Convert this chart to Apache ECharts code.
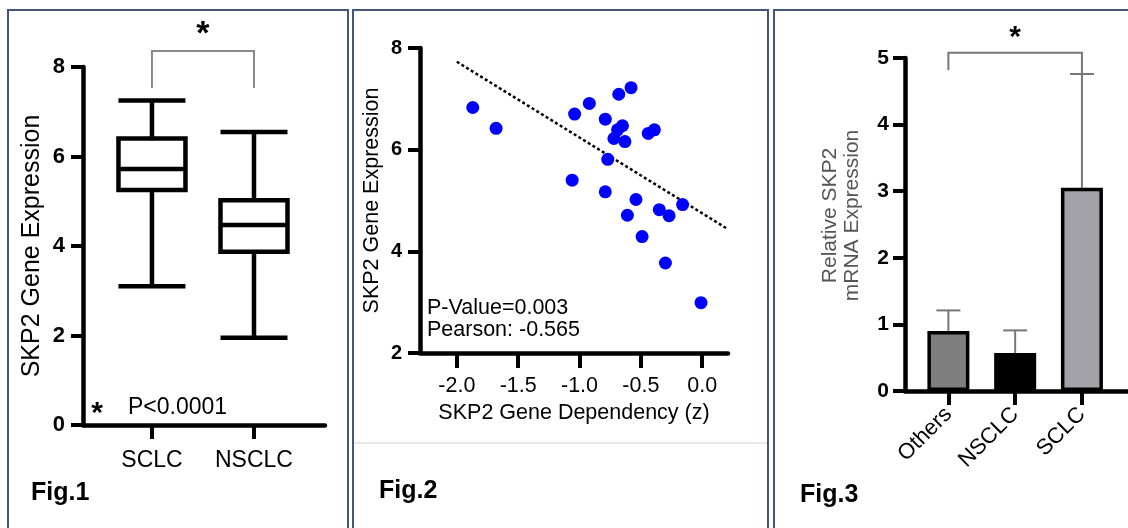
<!DOCTYPE html>
<html><head><meta charset="utf-8">
<script src="https://cdn.jsdelivr.net/npm/echarts@6/dist/echarts.min.js"></script>
<style>html,body{margin:0;padding:0;background:#fff}#c{width:1128px;height:528px}</style>
</head><body><div id="c"></div>
<script>
// ---------- Fig.1 : box plot ----------
const boxCategories = ['SCLC', 'NSCLC'];
// [min, Q1, median, Q3, max]
const boxStats = [
  [3.1, 5.25, 5.72, 6.4, 7.25],
  [1.95, 3.87, 4.47, 5.02, 6.55]
];
const box1YTicks = [0, 2, 4, 6, 8];
const fig1Bracket = [[1, 2, 8.36, 7.53, 7.53, 8.72]]; // x1, x2, top, end1, end2, star
// ---------- Fig.2 : scatter ----------
const depX = [-1.87, -1.68, -1.04, -0.92, -0.68, -0.58, -0.79, -0.65, -0.72, -0.63, -0.69, -0.44, -0.39,
              -0.77, -1.06, -0.79, -0.54, -0.61, -0.35, -0.27, -0.16, -0.49, -0.30, -0.01];
const exprY = [6.83, 6.42, 6.70, 6.91, 7.09, 7.22, 6.60, 6.47, 6.22, 6.16, 6.39, 6.32, 6.39,
               5.81, 5.40, 5.17, 5.02, 4.71, 4.82, 4.70, 4.92, 4.29, 3.77, 2.99];
const trendLine = [[-2.0, 7.73], [0.2, 4.45]];
const scatterXTicks = [-2.0, -1.5, -1.0, -0.5, 0.0];
// ---------- Fig.3 : bar chart ----------
const barCategories = ['Others', 'NSCLC', 'SCLC'];
const barMeans = [0.9, 0.57, 3.05];
const barErrUpper = [1.21, 0.91, 4.76];
const barColors = ['#7f7f7f', '#000000', '#a2a2a8'];
const fig3Bracket = [[1, 3, 5.08, 4.82, 4.76, 5.3]];

const FONT = '"Liberation Sans", Arial, sans-serif';
const chart = echarts.init(document.getElementById('c'), null, {renderer: 'canvas'});

function bracketRender(color, starSize) {
  return function (params, api) {
    const x1 = api.value(0), x2 = api.value(1);
    const a = api.coord([x1, api.value(3)]);
    const b = api.coord([x1, api.value(2)]);
    const c = api.coord([x2, api.value(2)]);
    const d = api.coord([x2, api.value(4)]);
    const s = api.coord([(x1 + x2) / 2, api.value(5)]);
    return {type: 'group', children: [
      {type: 'polyline', shape: {points: [a, b, c, d]}, style: {stroke: color, lineWidth: 2, fill: null}},
      {type: 'text', x: s[0], y: s[1], style: {text: '*', font: 'bold ' + starSize + 'px ' + FONT,
        align: 'center', verticalAlign: 'middle', fill: '#000'}}
    ]};
  };
}

const axisLineStyle = {onZero: false, lineStyle: {color: '#000', width: 4.5}};
const yAxisLineStyle = {show: true, onZero: false, lineStyle: {color: '#000', width: 4.5}};

chart.setOption({
  animation: false,
  backgroundColor: '#fff',
  textStyle: {fontFamily: FONT},
  grid: [
    {left: 83, top: 67, width: 242, height: 358},
    {left: 420, top: 48, width: 308, height: 305},
    {left: 905, top: 58, width: 223, height: 333}
  ],
  xAxis: [
    {gridIndex: 0, type: 'value', min: 0.324, max: 2.696, splitLine: {show: false},
     axisLine: axisLineStyle,
     axisTick: {customValues: [1, 2], length: 14, lineStyle: {width: 4, color: '#000'}},
     axisLabel: {customValues: [1, 2], formatter: v => boxCategories[Math.round(v) - 1], fontSize: 23, color: '#000', margin: 24}},
    {gridIndex: 1, type: 'value', min: -2.3, max: 0.21, splitLine: {show: false},
     axisLine: axisLineStyle,
     axisTick: {customValues: scatterXTicks, length: 15, lineStyle: {width: 4, color: '#000'}},
     axisLabel: {customValues: scatterXTicks, formatter: v => v.toFixed(1), fontSize: 21.5, color: '#000', margin: 22},
     name: 'SKP2 Gene Dependency (z)', nameLocation: 'middle', nameGap: 49,
     nameTextStyle: {fontSize: 21.5, color: '#000'}},
    {gridIndex: 2, type: 'value', min: 0.35, max: 3.69, splitLine: {show: false},
     axisLine: axisLineStyle,
     axisTick: {customValues: [1, 2, 3], length: 14, lineStyle: {width: 4, color: '#000'}},
     axisLabel: {customValues: [1, 2, 3], formatter: v => barCategories[Math.round(v) - 1], rotate: 45, fontSize: 22, color: '#000', margin: 20}}
  ],
  yAxis: [
    {gridIndex: 0, type: 'value', min: 0, max: 8, interval: 2, splitLine: {show: false},
     axisLine: yAxisLineStyle,
     axisTick: {show: true, length: 12, lineStyle: {width: 4, color: '#000'}},
     axisLabel: {fontSize: 22, fontWeight: 'bold', color: '#000', margin: 18},
     name: 'SKP2 Gene Expression', nameLocation: 'middle', nameGap: 38,
     nameTextStyle: {fontSize: 25, color: '#000'}},
    {gridIndex: 1, type: 'value', min: 2, max: 8, interval: 2, splitLine: {show: false},
     axisLine: yAxisLineStyle,
     axisTick: {show: true, length: 12, lineStyle: {width: 4, color: '#000'}},
     axisLabel: {fontSize: 20, fontWeight: 'bold', color: '#000', margin: 18},
     name: 'SKP2 Gene Expression', nameLocation: 'middle', nameGap: 37,
     nameTextStyle: {fontSize: 21.5, color: '#000'}},
    {gridIndex: 2, type: 'value', min: 0, max: 5, interval: 1, splitLine: {show: false},
     axisLine: yAxisLineStyle,
     axisTick: {show: true, length: 12, lineStyle: {width: 4, color: '#000'}},
     axisLabel: {fontSize: 21, fontWeight: 'bold', color: '#000', margin: 16},
     name: 'Relative SKP2\nmRNA Expression', nameLocation: 'middle', nameGap: 42,
     nameTextStyle: {fontSize: 21, color: '#555', lineHeight: 22, padding: [0, 0, 0, 18]}}
  ],
  series: [
    {type: 'boxplot', xAxisIndex: 0, yAxisIndex: 0, boxWidth: [67, 67],
     itemStyle: {color: '#fff', borderColor: '#000', borderWidth: 4.5},
     data: boxStats.map((s, i) => [i + 1].concat(s))},
    {type: 'custom', xAxisIndex: 0, yAxisIndex: 0, clip: false,
     renderItem: bracketRender('#8a8a8a', 34), data: fig1Bracket},
    {type: 'line', xAxisIndex: 1, yAxisIndex: 1, data: trendLine, symbol: 'none',
     lineStyle: {color: '#000', width: 2.5, type: [3, 2.5]}, z: 1},
    {type: 'scatter', xAxisIndex: 1, yAxisIndex: 1, symbolSize: 13,
     itemStyle: {color: '#0000ff', opacity: 1}, data: depX.map((x, i) => [x, exprY[i]]), z: 3},
    {type: 'bar', xAxisIndex: 2, yAxisIndex: 2, barWidth: 42,
     data: barMeans.map((m, i) => ({value: [i + 1, m], itemStyle: {color: barColors[i]}})),
     itemStyle: {borderColor: '#000', borderWidth: 3.5}},
    {type: 'custom', xAxisIndex: 2, yAxisIndex: 2, clip: false, z: 1,
     data: barMeans.map((m, i) => [i + 1, m, barErrUpper[i]]),
     renderItem: function (params, api) {
       const b = api.coord([api.value(0), api.value(1)]);
       const t = api.coord([api.value(0), api.value(2)]);
       return {type: 'group', children: [
         {type: 'line', shape: {x1: b[0], y1: b[1], x2: t[0], y2: t[1]}, style: {stroke: '#777', lineWidth: 2}},
         {type: 'line', shape: {x1: t[0] - 12, y1: t[1], x2: t[0] + 12, y2: t[1]}, style: {stroke: '#777', lineWidth: 2}}
       ]};
     }},
    {type: 'custom', xAxisIndex: 2, yAxisIndex: 2, clip: false,
     renderItem: bracketRender('#777', 30), data: fig3Bracket}
  ],
  graphic: [
    {type: 'rect', shape: {x: 8, y: 10, width: 340, height: 540}, style: {fill: null, stroke: '#44577a', lineWidth: 2}, silent: true},
    {type: 'rect', shape: {x: 353, y: 10, width: 415, height: 540}, style: {fill: null, stroke: '#44577a', lineWidth: 2}, silent: true},
    {type: 'rect', shape: {x: 774, y: 10, width: 380, height: 540}, style: {fill: null, stroke: '#44577a', lineWidth: 2}, silent: true},
    {type: 'line', shape: {x1: 354, y1: 443, x2: 767, y2: 443}, style: {stroke: '#e2e2e2', lineWidth: 1.5}, silent: true},
    {type: 'text', x: 97, y: 414, style: {text: '*', font: 'bold 30px ' + FONT, fill: '#000', align: 'center', verticalAlign: 'middle'}},
    {type: 'text', x: 128, y: 408, style: {text: 'P<0.0001', font: '23px ' + FONT, fill: '#000', verticalAlign: 'middle'}},
    {type: 'text', x: 427, y: 308, style: {text: 'P-Value=0.003', font: '21.5px ' + FONT, fill: '#000', verticalAlign: 'middle'}},
    {type: 'text', x: 427, y: 330, style: {text: 'Pearson: -0.565', font: '21.5px ' + FONT, fill: '#000', verticalAlign: 'middle'}},
    {type: 'text', x: 31, y: 493, style: {text: 'Fig.1', font: 'bold 25px ' + FONT, fill: '#000', verticalAlign: 'middle'}},
    {type: 'text', x: 379, y: 491, style: {text: 'Fig.2', font: 'bold 25px ' + FONT, fill: '#000', verticalAlign: 'middle'}},
    {type: 'text', x: 800, y: 495, style: {text: 'Fig.3', font: 'bold 25px ' + FONT, fill: '#000', verticalAlign: 'middle'}}
  ]
});
</script>
</body></html>
